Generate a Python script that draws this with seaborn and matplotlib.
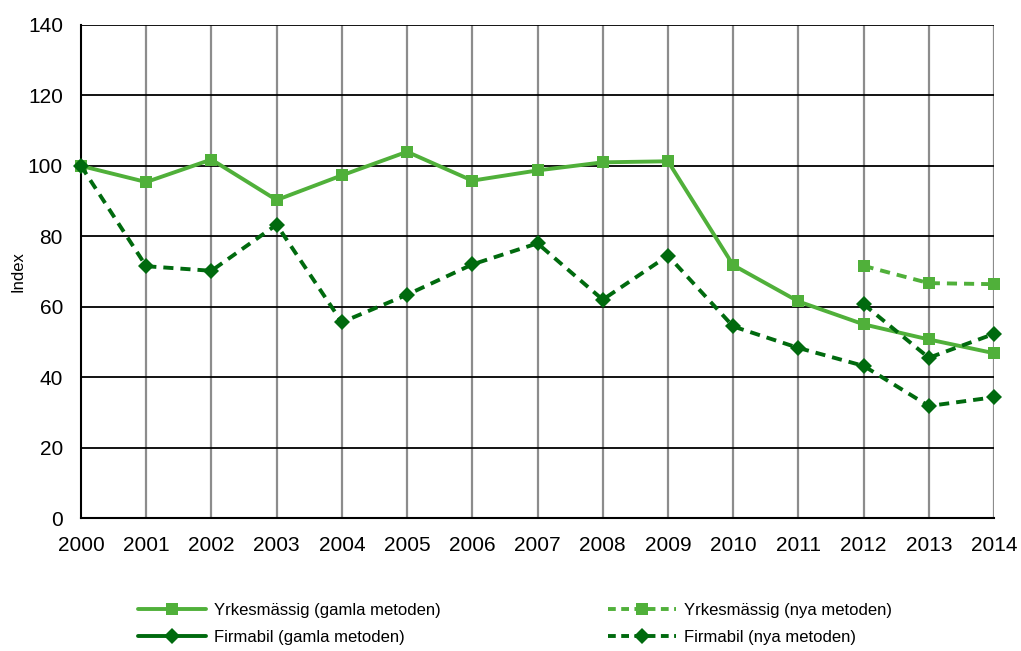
import numpy as np
import pandas as pd
import matplotlib
matplotlib.use('Agg')
import matplotlib.pyplot as plt
from matplotlib.lines import Line2D
import seaborn as sns

# Data
years = list(range(2000, 2015))
yrk_gamla = [100, 95.4, 101.8, 90.3, 97.3, 104, 95.8, 98.7, 101, 101.3, 71.8, 61.5, 55, 50.7, 46.8]
firma_gamla = [100, 71.5, 70.2, 83.3, 55.6, 63.4, 72, 78, 62, 74.5, 54.4, 48.3, 43.2, 31.8, 34.3]
nya_years = [2012, 2013, 2014]
yrk_nya = [71.6, 66.7, 66.4]
firma_nya = [60.7, 45.5, 52.3]

labels = ['Yrkesmässig (gamla metoden)', 'Yrkesmässig (nya metoden)',
          'Firmabil (gamla metoden)', 'Firmabil (nya metoden)']

light = '#50B03A'
dark = '#006A0E'

sns.set_style('white')
plt.rcParams['font.family'] = ['Liberation Sans', 'DejaVu Sans']
plt.rcParams['text.color'] = 'black'
plt.rcParams['xtick.color'] = 'black'
plt.rcParams['ytick.color'] = 'black'
plt.rcParams['axes.labelcolor'] = 'black'

fig = plt.figure(figsize=(10.21, 6.51), dpi=100)
ax = fig.add_axes([0.0793, 0.2043, 0.8943, 0.7573])

df_old = pd.DataFrame({'year': years, 'yrk': yrk_gamla, 'firma': firma_gamla})
df_new = pd.DataFrame({'year': nya_years, 'yrk': yrk_nya, 'firma': firma_nya})

lw = 2.8
dash = (0, (2.6, 1.8))

# old-method lines (Firmabil is drawn dashed in the original chart)
sns.lineplot(data=df_old, x='year', y='yrk', ax=ax, color=light, lw=lw,
             marker='s', markersize=9, markeredgewidth=0, clip_on=False, zorder=5)
sns.lineplot(data=df_old, x='year', y='firma', ax=ax, color=dark, lw=lw,
             linestyle=dash, marker='D', markersize=8.5, markeredgewidth=0,
             clip_on=False, zorder=5)
sns.lineplot(data=df_new, x='year', y='yrk', ax=ax, color=light, lw=lw,
             linestyle=dash, marker='s', markersize=9, markeredgewidth=0,
             clip_on=False, zorder=5)
sns.lineplot(data=df_new, x='year', y='firma', ax=ax, color=dark, lw=lw,
             linestyle=dash, marker='D', markersize=8.5, markeredgewidth=0,
             clip_on=False, zorder=5)

ax.set_xlim(2000, 2014)
ax.set_ylim(0, 140)
ax.set_xticks(years)
ax.set_yticks(range(0, 141, 20))
ax.tick_params(axis='both', labelsize=15, length=0, pad=13)

for y in range(20, 141, 20):
    ax.axhline(y, color='black', lw=1.3, zorder=2)
for x in years[1:]:
    ax.axvline(x, color='#8C8C8C', lw=1.6, zorder=1)

for side in ['top', 'right']:
    ax.spines[side].set_visible(False)
for side in ['left', 'bottom']:
    ax.spines[side].set_color('black')
    ax.spines[side].set_linewidth(1.5)

ax.set_xlabel('')
ax.set_ylabel('Index', fontsize=12, labelpad=2)

handles = [
    Line2D([], [], color=light, lw=lw, marker='s', markersize=9, markeredgewidth=0),
    Line2D([], [], color=dark, lw=lw, marker='D', markersize=8, markeredgewidth=0),
    Line2D([], [], color=light, lw=lw, linestyle=(0, (2, 1.4)), marker='s', markersize=9, markeredgewidth=0),
    Line2D([], [], color=dark, lw=lw, linestyle=(0, (2, 1.4)), marker='D', markersize=8, markeredgewidth=0),
]
leg_labels = [labels[0], labels[2], labels[1], labels[3]]
fig.legend(handles, leg_labels, ncol=2, loc='center', bbox_to_anchor=(0.5044, 0.0415),
           frameon=False, fontsize=12, handlelength=4.1, columnspacing=10.0,
           labelspacing=0.75, handletextpad=0.5)

plt.savefig('out.png', dpi=100)
